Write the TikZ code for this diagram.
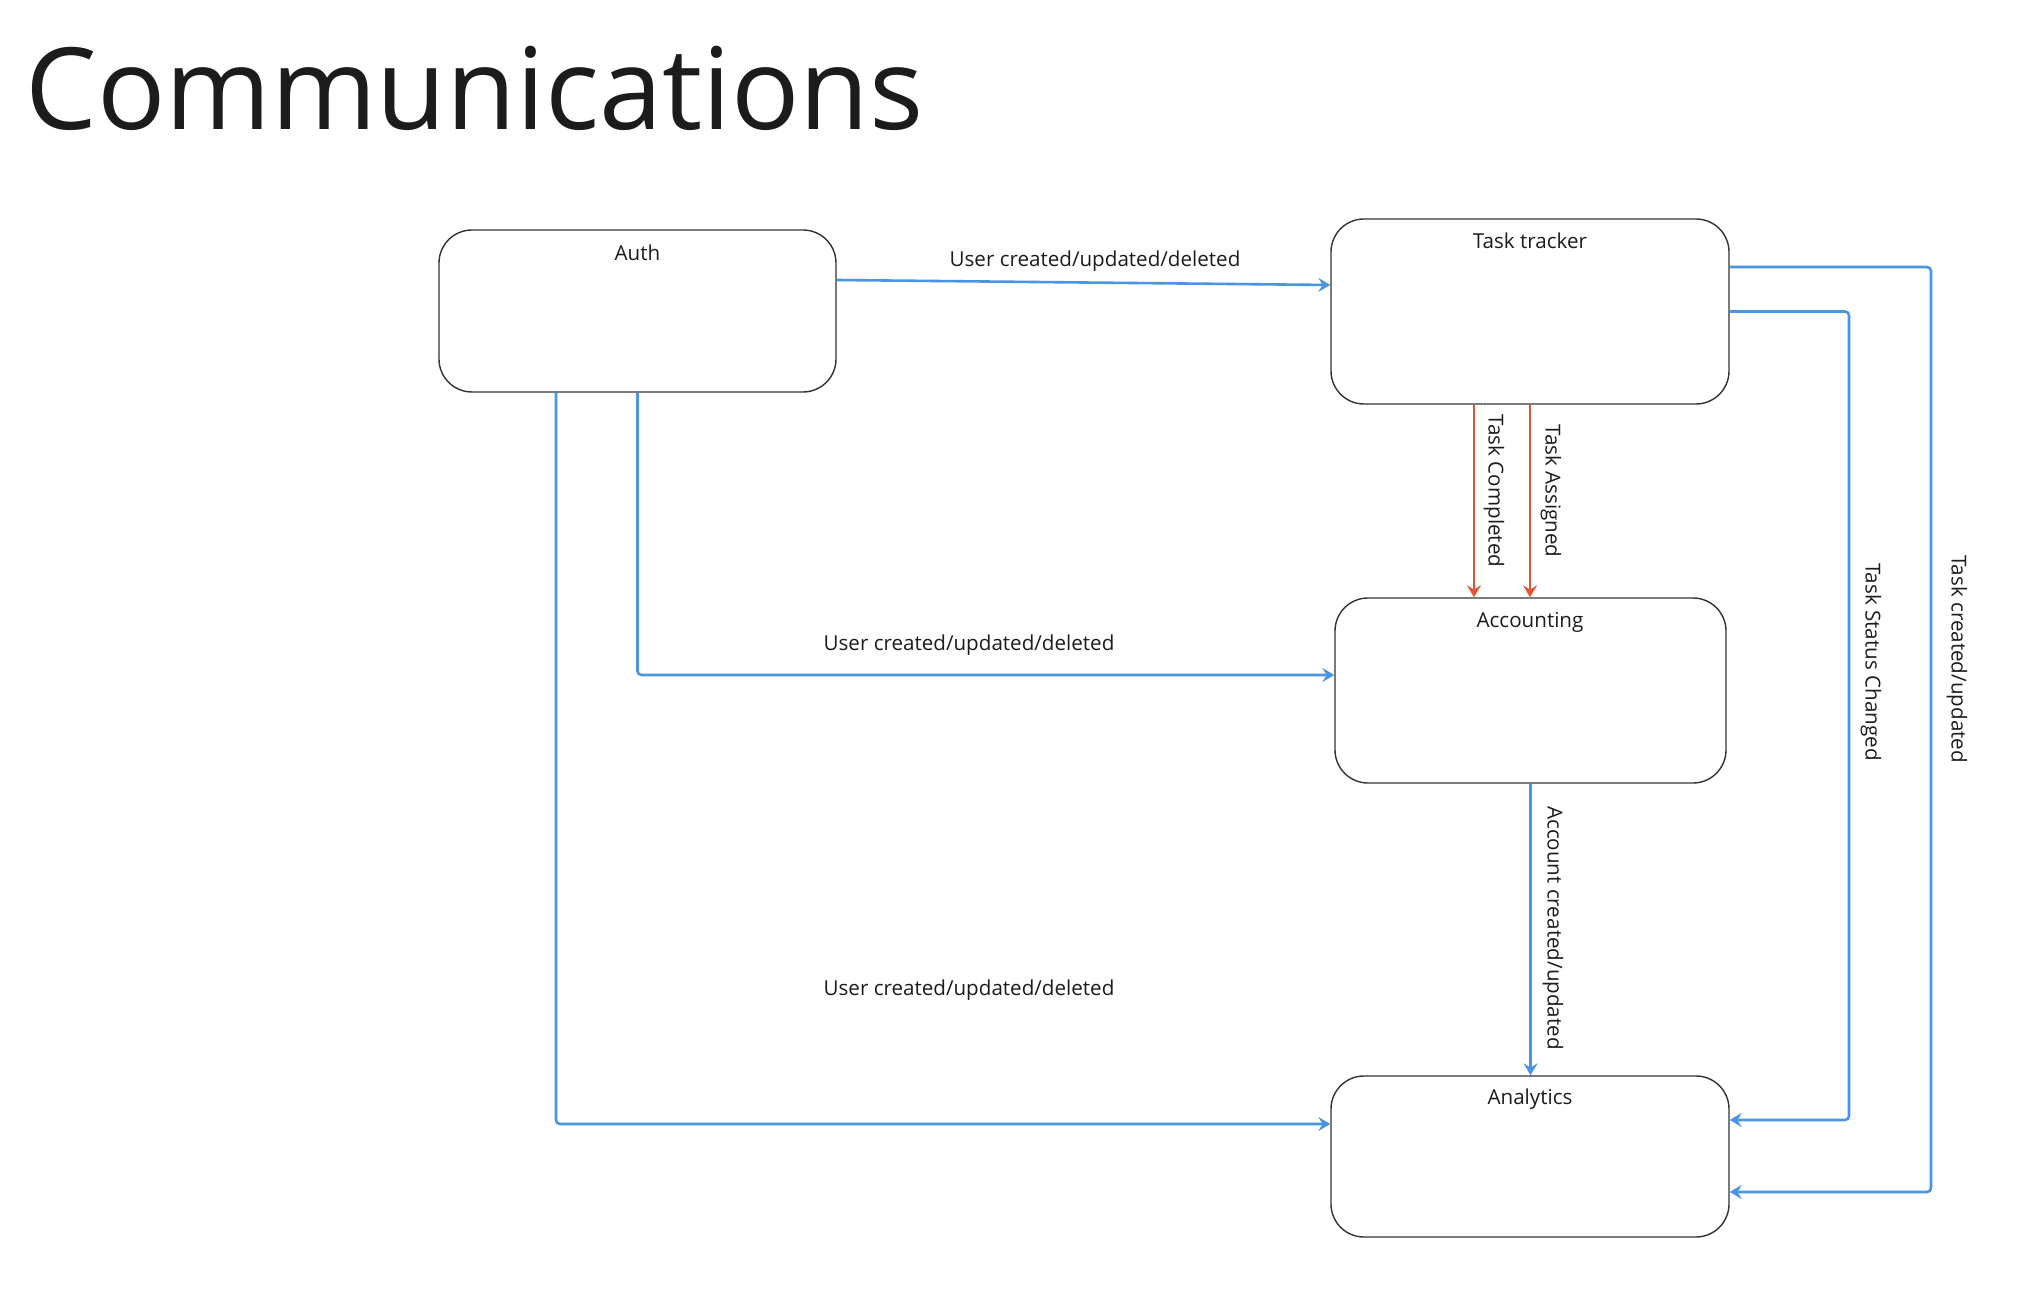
\documentclass[tikz,border=0pt]{standalone}
\usepackage{fontspec}
\setmainfont{Open Sans}
\usetikzlibrary{arrows.meta,calc}
\definecolor{lblue}{RGB}{74,148,228}
\definecolor{lred}{RGB}{226,84,52}
\definecolor{ink}{RGB}{28,28,28}
\tikzset{
  box/.style={draw=ink!90, line width=0.7pt, rounded corners=16.5pt, fill=white, inner sep=0pt},
  boxtitle/.style={text=ink, font=\fontsize{10.3}{12}\selectfont, inner sep=0pt},
  lbl/.style={text=ink, font=\fontsize{10.3}{12}\selectfont, inner sep=0pt},
  vlbl/.style={lbl, rotate=-90},
  bluearrow/.style={draw=lblue, line width=1.3pt, rounded corners=2pt, -{Stealth[length=6pt,width=7pt,inset=2.2pt]}},
  redarrow/.style={draw=lred, line width=1.3pt, -{Stealth[length=6pt,width=7pt,inset=2.2pt]}}
}
\begin{document}
\begin{tikzpicture}[x=0.5pt,y=-0.5pt]
\useasboundingbox[fill=white] (0,0) rectangle (2042,1300);
\node[anchor=base west, text=ink, font=\fontsize{56.8}{60}\selectfont, inner sep=0pt] (title) at (25,130) {Communications};

\node[box, minimum width=198.5pt, minimum height=81pt] (auth) at (637.5,311) {};
\node[box, minimum width=199pt, minimum height=92.5pt] (task) at (1530,311.5) {};
\node[box, minimum width=195.5pt, minimum height=92.5pt] (acc) at (1530.5,690.5) {};
\node[box, minimum width=199pt, minimum height=80.5pt] (ana) at (1530,1156.5) {};

\node[boxtitle] (authT) at (637.5,253) {Auth};
\node[boxtitle] (taskT) at (1530,241) {Task tracker};
\node[boxtitle] (accT) at (1530,622) {Accounting};
\node[boxtitle] (anaT) at (1530,1099) {Analytics};

\coordinate (c1) at (1849,0);
\coordinate (c2) at (1931,0);
\coordinate (in1) at ([yshift=18.25pt]ana.east);
\coordinate (in2) at ([yshift=-17.75pt]ana.east);
\coordinate (out2) at ([yshift=22.25pt]task.east);

% Auth -> Task tracker
\draw[bluearrow] ([yshift=15.5pt]auth.east) -- ([yshift=13.25pt]task.west);
% Auth -> Accounting
\draw[bluearrow] (auth.south) |- ([yshift=7.75pt]acc.west);
% Auth -> Analytics
\draw[bluearrow] ([xshift=-40.75pt]auth.south) |- ([yshift=16.25pt]ana.west);
% Task tracker -> Accounting
\draw[redarrow] ([xshift=-28pt]task.south) -- ([xshift=-28pt]task.south |- acc.north);
\draw[redarrow] (task.south) -- (task.south |- acc.north);
% Accounting -> Analytics
\draw[bluearrow] (acc.south) -- (acc.south |- ana.north);
% Task tracker -> Analytics (status)
\draw[bluearrow] (task.east) -- (task.east -| c1) -- (c1 |- in1) -- (in1);
% Task tracker -> Analytics (created)
\draw[bluearrow] (out2) -- (out2 -| c2) -- (c2 |- in2) -- (in2);

\node[lbl] (l1) at (1095,261) {User created/updated/deleted};
\node[lbl] (l2) at (969,645) {User created/updated/deleted};
\node[lbl] (l3) at (969,990) {User created/updated/deleted};
\node[vlbl] (l4) at (1494,491) {Task Completed};
\node[vlbl] (l5) at (1551,491) {Task Assigned};
\node[vlbl] (l6) at (1553,928) {Account created/updated};
\node[vlbl] (l7) at (1871,662) {Task Status Changed};
\node[vlbl] (l8) at (1957,659) {Task created/updated};
\end{tikzpicture}
\end{document}
